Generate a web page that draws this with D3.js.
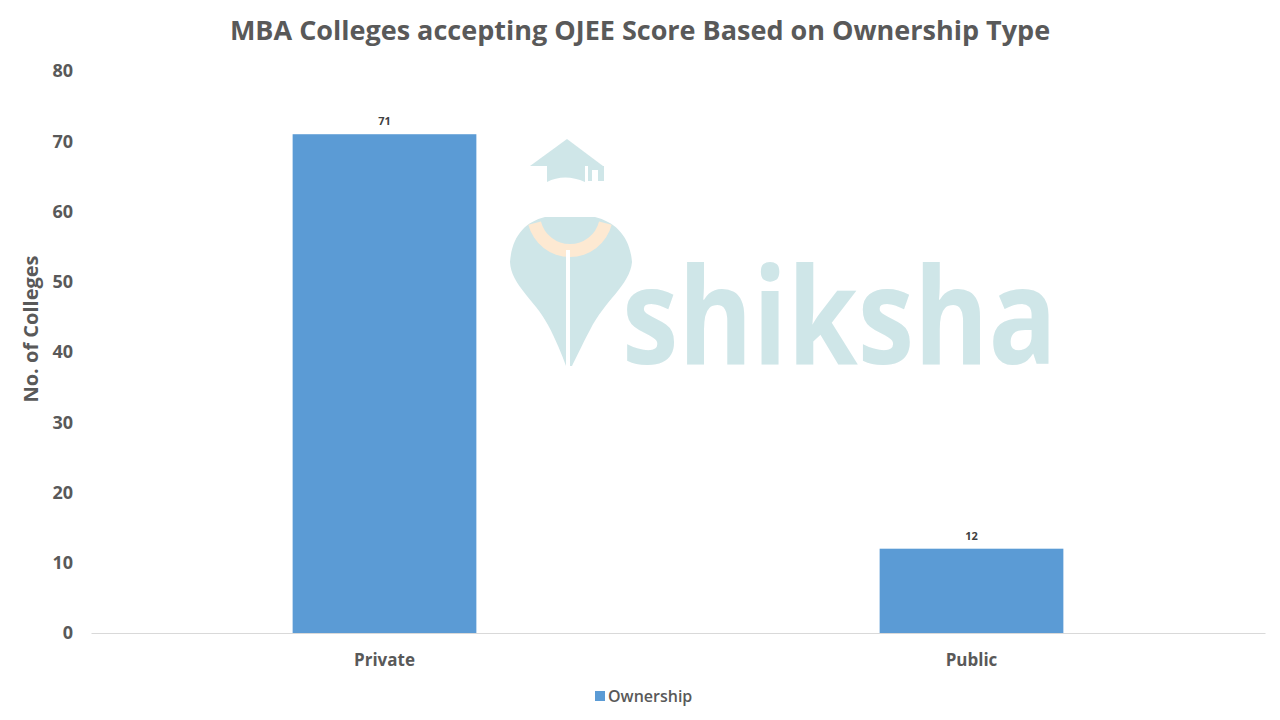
<!DOCTYPE html>
<html><head><meta charset="utf-8">
<script src="https://cdn.jsdelivr.net/npm/d3@7"></script>
<style>body{margin:0;background:#fff;} text{font-family:"Open Sans","Noto Sans",sans-serif;}</style>
</head><body>
<svg id="chart" width="1280" height="720"></svg>
<script>
const categories = ["Private", "Public"];
const values = [71, 12];
const yTicks = [0, 10, 20, 30, 40, 50, 60, 70, 80];
const seriesName = "Ownership";
const titleText = "MBA Colleges accepting OJEE Score Based on Ownership Type";
const yLabel = "No. of Colleges";

const svg = d3.select("#chart");
const W = 1280, H = 720;
const m = {left: 91, right: 15, top: 71, bottom: 87};
const x = d3.scaleBand().domain(categories).range([m.left, W - m.right]).padding(0);
const y = d3.scaleLinear().domain([0, 80]).range([H - m.bottom, m.top]);
const barW = x.bandwidth() * 0.313;
const textCol = "#595959";

// watermark
const wm = svg.append("g").attr("class", "watermark");
wm.append("path").attr("d", "M510,262 C512,236 525,222 545,217 L595,217 C615,222 630,236 632,262 C630,285 605,300 590,330 C582,345 575,360 572,366 L566,366 C562,355 556,340 548,325 C535,300 511,285 510,262 Z").attr("fill", "#cfe6e8");
wm.append("path").attr("d", d3.arc()({innerRadius: 30, outerRadius: 43, startAngle: Math.PI/2 + 0.25, endAngle: 3*Math.PI/2 - 0.25})).attr("transform", "translate(570,214)").attr("fill", "#fde9d2");
wm.append("rect").attr("x", 566).attr("y", 250).attr("width", 4).attr("height", 116).attr("fill", "#fff");
wm.append("path").attr("d", "M530,166 L567,139 L603,166 Z").attr("fill", "#cfe6e8");
wm.append("path").attr("d", "M547,166 L585,166 L585,182 C572,176 558,176 547,182 Z").attr("fill", "#cfe6e8");
wm.append("rect").attr("x", 588).attr("y", 166).attr("width", 16).attr("height", 15).attr("fill", "#cfe6e8");
wm.append("rect").attr("x", 592).attr("y", 170).attr("width", 6).attr("height", 11).attr("fill", "#fff");
wm.append("text").attr("x", 622).attr("y", 364).attr("font-size", 134).attr("font-weight", 700)
  .attr("font-family", "Lato, 'Open Sans', sans-serif").attr("fill", "#cfe6e8").attr("textLength", 435).attr("lengthAdjust", "spacingAndGlyphs").text("shiksha");

// title
svg.append("text").attr("x", 640).attr("y", 40).attr("text-anchor", "middle")
  .attr("font-size", 27).attr("font-weight", 700).attr("fill", textCol).text(titleText);

// y axis
const yAxis = svg.append("g").attr("transform", `translate(${m.left},0)`)
  .call(d3.axisLeft(y).tickValues(yTicks).tickSize(0).tickPadding(18));
yAxis.select(".domain").remove();
yAxis.selectAll("text").attr("font-size", 18).attr("font-weight", 700).attr("fill", textCol)
  .attr("font-family", "'Open Sans', sans-serif");

svg.append("text").attr("transform", `translate(38,329) rotate(-90)`)
  .attr("text-anchor", "middle").attr("font-size", 20).attr("font-weight", 700).attr("fill", textCol).text(yLabel);

// bars
svg.selectAll("rect.bar").data(categories).join("rect").attr("class", "bar")
  .attr("x", d => x(d) + x.bandwidth()/2 - barW/2)
  .attr("y", (d, i) => y(values[i]))
  .attr("width", barW)
  .attr("height", (d, i) => y(0) - y(values[i]))
  .attr("fill", "#5b9bd5");

// data labels
svg.selectAll("text.lbl").data(categories).join("text").attr("class", "lbl")
  .attr("x", d => x(d) + x.bandwidth()/2)
  .attr("y", (d, i) => y(values[i]) - 9)
  .attr("text-anchor", "middle").attr("font-size", 11).attr("font-weight", 700).attr("fill", "#404040")
  .text((d, i) => values[i]);

// x axis
const xAxis = svg.append("g").attr("transform", `translate(0,${y(0)})`)
  .call(d3.axisBottom(x).tickSize(0).tickPadding(21));
xAxis.select(".domain").attr("stroke", "#d9d9d9");
xAxis.selectAll("text").attr("font-size", 17).attr("font-weight", 700).attr("fill", textCol)
  .attr("font-family", "'Open Sans', sans-serif");

// legend
const lg = svg.append("g");
lg.append("rect").attr("x", 595).attr("y", 691).attr("width", 10).attr("height", 10).attr("fill", "#5b9bd5");
lg.append("text").attr("x", 608).attr("y", 702).attr("font-size", 16).attr("font-weight", 600).attr("fill", textCol).text(seriesName);
</script>
</body></html>
